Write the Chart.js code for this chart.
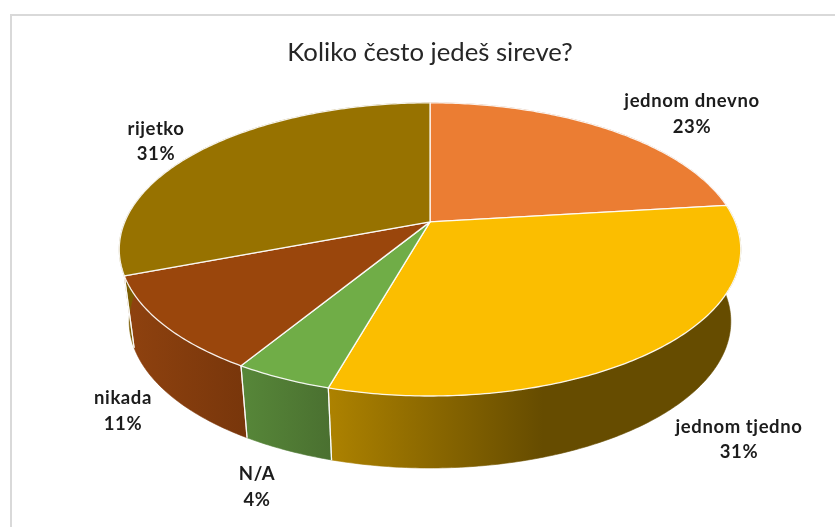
<!DOCTYPE html>
<html lang="hr">
<head>
<meta charset="utf-8">
<style>html,body{margin:0;padding:0;background:#fff}canvas{display:block}</style>
<script src="https://cdn.jsdelivr.net/npm/chart.js@4"></script>
</head>
<body>
<canvas id="c" width="835" height="527"></canvas>
<script>
const chartTitle = 'Koliko često jedeš sireve?';
const categories = ['jednom dnevno', 'jednom tjedno', 'N/A', 'nikada', 'rijetko'];
const shares = [23.1, 31.3, 4.3, 10.5, 30.8];
const topColors = ['#EB7D33', '#FBBE00', '#70AD47', '#9A460C', '#977200'];
const wallStops = [
  ['#b05f28', '#a0541f'],
  ['#ad8200', '#664c00', '#664c00'],
  ['#578739', '#4a7030'],
  ['#8f420f', '#78360b'],
  ['#7a5c00', '#7a5c00']
];
const labelCentres = [[692, 114], [739, 439.5], [257, 487], [123, 411], [156, 141.5]];

const stretchX = 2.12, tilt = -0.188, depth = 72, baseShrink = 0.968;

function project(arc, angle, base) {
  const x = Math.cos(angle), y = Math.sin(angle);
  const d = 1 + tilt * y;
  const px = x * Math.sqrt(1 - tilt * tilt) / d;
  const py = (y + tilt) / d;
  const r = arc.outerRadius;
  return [
    arc.x + px * r * stretchX * (base ? baseShrink : 1),
    arc.y + py * r + (base ? depth : 0)
  ];
}
function apex(arc) { return [arc.x, arc.y + tilt * arc.outerRadius]; }
function steps(arc) {
  const n = Math.max(8, Math.ceil((arc.endAngle - arc.startAngle) * 80));
  const list = [];
  for (let i = 0; i <= n; i++) list.push(arc.startAngle + (arc.endAngle - arc.startAngle) * i / n);
  return list;
}

const perspectivePie = {
  id: 'perspectivePie',
  beforeDraw(chart) {
    const ctx = chart.ctx;
    ctx.save();
    ctx.fillStyle = '#fff';
    ctx.fillRect(0, 0, chart.width, chart.height);
    ctx.strokeStyle = '#d9d9d9';
    ctx.lineWidth = 2;
    ctx.beginPath();
    ctx.moveTo(chart.width, 15);
    ctx.lineTo(11, 15);
    ctx.lineTo(11, chart.height);
    ctx.stroke();
    ctx.restore();
  },
  beforeDatasetsDraw(chart) {
    const ctx = chart.ctx;
    const arcs = chart.getDatasetMeta(0).data;
    ctx.save();
    ctx.lineJoin = 'round';
    arcs.forEach((arc, i) => {
      const pts = steps(arc);
      const front = pts.map(a => project(arc, a, false));
      const back = pts.map(a => project(arc, a, true));
      const xs = front.map(p => p[0]).concat(back.map(p => p[0]));
      const x0 = Math.min(...xs), x1 = Math.max(...xs);
      const g = ctx.createLinearGradient(x0, 0, x1, 0);
      const st = wallStops[i];
      if (st.length === 3) { g.addColorStop(0, st[0]); g.addColorStop(0.52, st[1]); g.addColorStop(1, st[2]); }
      else { g.addColorStop(0, st[0]); g.addColorStop(1, st[1]); }
      ctx.beginPath();
      front.forEach((p, k) => k ? ctx.lineTo(p[0], p[1]) : ctx.moveTo(p[0], p[1]));
      back.slice().reverse().forEach(p => ctx.lineTo(p[0], p[1]));
      ctx.closePath();
      ctx.fillStyle = g;
      ctx.strokeStyle = g;
      ctx.lineWidth = 0.6;
      ctx.fill();
      ctx.stroke();
    });
    arcs.forEach(arc => {
      [arc.startAngle, arc.endAngle].forEach(a => {
        const t = project(arc, a, false), b = project(arc, a, true);
        if (Math.sin(a) > 0) {
          ctx.beginPath();
          ctx.moveTo(t[0], t[1]);
          ctx.lineTo(b[0], b[1]);
          ctx.strokeStyle = 'rgba(255,255,255,0.85)';
          ctx.lineWidth = 1.2;
          ctx.stroke();
        }
      });
    });
    arcs.forEach((arc, i) => {
      const c = apex(arc);
      ctx.beginPath();
      ctx.moveTo(c[0], c[1]);
      steps(arc).forEach(a => { const p = project(arc, a, false); ctx.lineTo(p[0], p[1]); });
      ctx.closePath();
      ctx.fillStyle = topColors[i];
      ctx.fill();
      ctx.strokeStyle = 'rgba(255,255,255,0.9)';
      ctx.lineWidth = 1.3;
      ctx.stroke();
    });
    ctx.restore();
    return false;
  },
  afterDraw(chart) {
    const ctx = chart.ctx;
    ctx.save();
    ctx.font = 'bold 18.5px Lato, sans-serif';
    ctx.letterSpacing = '0.6px';
    ctx.fillStyle = '#1c1c1c';
    ctx.textAlign = 'center';
    ctx.textBaseline = 'middle';
    categories.forEach((name, i) => {
      const [x, y] = labelCentres[i];
      ctx.fillText(name, x, y - 12.7);
      ctx.fillText(Math.round(shares[i]) + '%', x, y + 12.7);
    });
    ctx.restore();
  }
};

new Chart(document.getElementById('c'), {
  type: 'pie',
  plugins: [perspectivePie],
  data: {
    labels: categories,
    datasets: [{ data: shares, backgroundColor: topColors, borderWidth: 0 }]
  },
  options: {
    responsive: false,
    animation: false,
    events: [],
    layout: { padding: { left: 120, right: 95, top: 0, bottom: 131 } },
    plugins: {
      legend: { display: false },
      tooltip: { enabled: false },
      title: {
        display: true,
        text: chartTitle,
        color: '#262626',
        fullSize: false,
        font: { family: 'Lato, sans-serif', size: 25.7, weight: 'normal', lineHeight: 1.2 },
        padding: { top: 37, bottom: 35 }
      }
    }
  }
});
</script>
</body>
</html>
